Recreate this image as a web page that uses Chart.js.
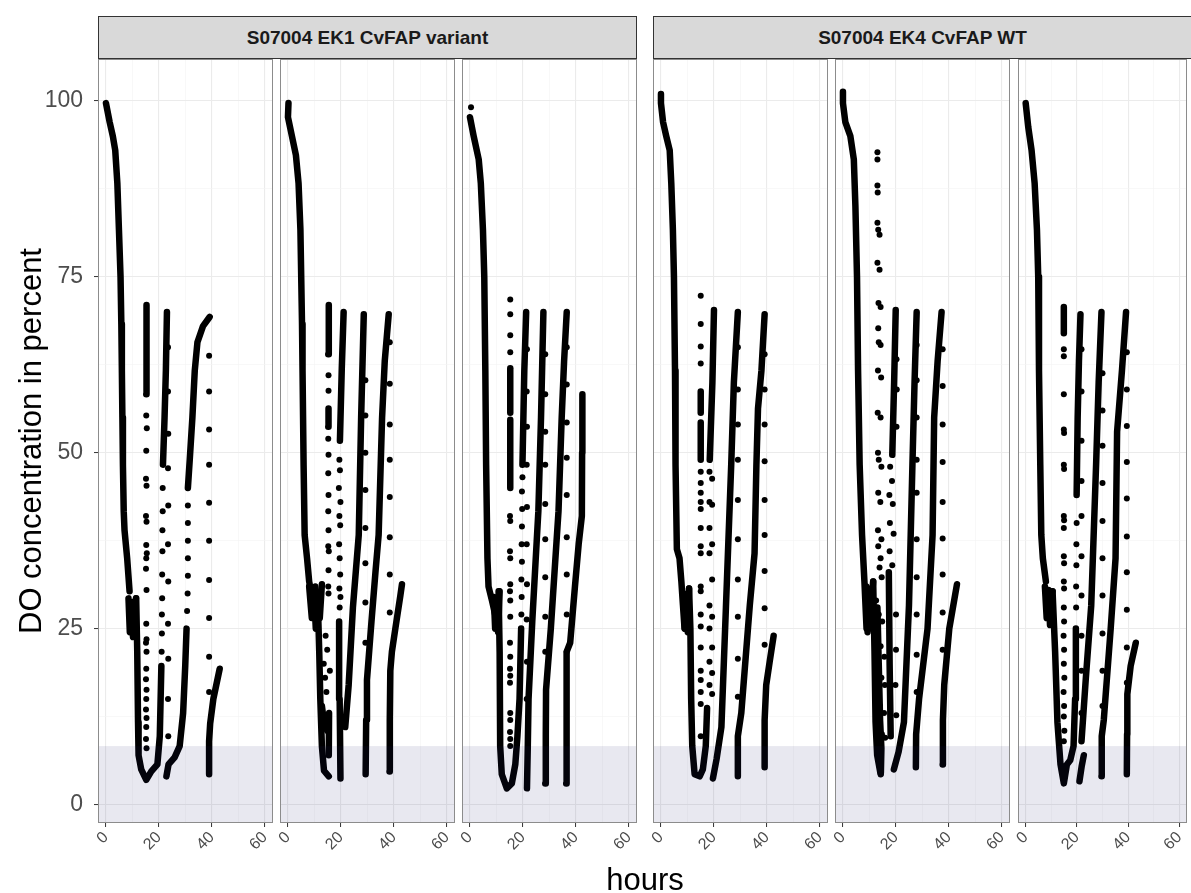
<!DOCTYPE html>
<html>
<head>
<meta charset="utf-8">
<script src="https://cdn.jsdelivr.net/npm/chart.js@4.4.1/dist/chart.umd.min.js"></script>
<style>
  body { margin: 0; background: #fff; }
  #wrap { position: relative; width: 1191px; height: 893px; overflow: hidden; font-family: "Liberation Sans", Arial, sans-serif; }
  #wrap canvas { position: absolute; left: 0; top: 0; }
  .strip { position: absolute; top: 16px; height: 43px; box-sizing: border-box; background: #d9d9d9; border: 1px solid #333;
           font-weight: bold; font-size: 19px; color: #1a1a1a; display: flex; align-items: center; justify-content: center; }
  .ytitle { position: absolute; left: 31px; top: 441px; transform: translate(-50%, -50%) rotate(-90deg); font-size: 31px; white-space: nowrap; }
  .xtitle { position: absolute; left: 645px; top: 862px; transform: translateX(-50%); font-size: 31px; }
</style>
</head>
<body>
<div id="wrap">
  <div class="strip" id="strip0" style="left:98px;width:539px"></div>
  <div class="strip" id="strip1" style="left:653px;width:539px"></div>
  <div class="ytitle">DO concentration in percent</div>
  <div class="xtitle">hours</div>
</div>
<script>
const groupNames = ['S07004 EK1 CvFAP variant', 'S07004 EK4 CvFAP WT'];
const hourTicks = [0, 20, 40, 60];
const percentTicks = [0, 25, 50, 75, 100];
const lowDoLimit = 8.3;

// EK1 variant, reactor 1: dense trails [hours, DO%] and single readings
const ek1aTrails = [
  [[0,99.7],[1.4,97],[2.6,95],[3.5,93],[4.3,88.3],[4.9,81.7],[5.5,75],[5.8,68.3],[6,61.7],[6.2,55],[6.4,48.3],[6.7,41.7],[7,39],[8,35],[8.9,30.3]],
  [[8.5,29.3],[9,24.5],[9.6,28.8],[10.2,23.8],[10.8,28.5],[11.3,29.3]],
  [[11.4,29.3],[11.8,21.7],[12.1,11.7],[12.3,7],[13.3,5],[15.2,3.5],[17.1,4.7],[19.4,5.7],[20.3,9.7],[20.9,19.7]],
  [[21.5,48.3],[22.1,55],[22.6,61.7],[23,70]],
  [[15.2,58.3],[15.3,71]],
  [[22.8,4],[23.6,5.7],[25.9,6.7],[27.8,8.3],[29.1,13],[29.9,19.7],[30.4,25]],
  [[30.9,45],[31.6,49],[32.6,55],[33.5,61.7],[34.5,65.7],[36.6,68],[39.1,69.3]],
  [[38.9,4.3],[38.9,9],[39.3,11.5],[40.5,15],[42.9,19.3]]
];
const ek1aDots = [
  [15.2,55.3],[15.4,53.5],[15.2,50.3],[15.1,46.3],[15.3,45.3],[15.1,41],[15.3,40.2],[15.2,36.9],[15.4,35.7],[15.2,35],
  [15.1,33.5],[15.3,30.5],[15.2,25.7],[15.3,23.5],[15.1,23],[15.3,21.7],[15.2,19.3],[15.1,17.8],[15.3,16.3],[15.2,15],
  [15.1,13.5],[15.3,12.3],[15.2,11],[15.1,9.3],[15.3,8],
  [21,21.7],[21.1,24.3],[21.1,27],[21.2,29.3],[21.2,32.7],[21.3,36],[21.3,39],[21.4,41.7],[21.4,45],
  [23.4,65],[23.4,58.7],[23.5,52.7],[23.4,47.8],[23.5,42.5],[23.4,37],[23.5,31.7],[23.4,25.7],[23.5,20.7],[23.4,15],[23.5,9.7],
  [30.6,27.5],[30.8,30],[30.9,32.5],[30.9,35],[30.9,37.5],[30.9,40],[30.9,42.5],
  [38.9,63.8],[38.9,58.7],[38.9,53.3],[38.9,48.3],[38.9,42.9],[38.9,37.5],[38.9,31.9],[38.9,26.5],[38.9,21],[38.9,16]
];

// EK1 variant, reactor 2
const ek1bTrails = [
  [[0.2,99.7],[0,97.7],[1.5,95],[3,92.3],[4,88.3],[4.7,81.7],[5,75],[5.3,68.3],[5.5,61.7],[5.9,48.3],[6.3,38.3],[7.2,35],[8,31.7],[9,29.7]],
  [[8,31],[9,26.5],[9.8,30.5],[10.5,25],[11.3,30],[12,26.5],[12.8,31.3]],
  [[10.3,31],[11.3,28.3],[11.8,21.7],[12.2,15],[12.8,8.3],[13.6,4.8],[15.4,4]],
  [[12.8,14],[13.5,12],[14.8,10.5],[15.5,13],[15.4,7]],
  [[15.2,64],[15.4,71]],
  [[15.2,53.7],[15.3,56.3]],
  [[19.8,3.7],[19.5,15],[19.3,26]],
  [[19.6,51.7],[20.3,62],[21,70]],
  [[21.6,11],[22.9,17],[24.5,28],[26.7,38.3],[27.6,55],[28.6,69.7]],
  [[29.3,4.3],[29.5,12],[29.8,17.7],[31.5,26],[33,33],[34.2,38.3],[35.5,55],[36.5,63],[38,69.7]],
  [[38.3,4.7],[38.4,12],[38.6,19],[39.2,21.7],[40.5,25],[42.4,29.7],[43,31.3]]
];
const ek1bDots = [
  [15.3,61],[15.3,58.8],[15.2,52],[15.3,49.7],[15.2,47.1],[15.3,44],[15.2,41.7],[15.3,39],[15.2,36.7],[15.4,36],
  [15.3,33.3],[15.2,31],[15.3,30],[14.2,24],[14.8,22],[13.5,20],[14,18],[15.8,19],[14.5,16],
  [19.4,49],[19.6,47.5],[19.2,45],[19.8,43],[19.4,41],[19.7,39.7],[19.3,37],[19.5,35],[19.7,32.7],[19.4,30.7],[19.8,29.5],[19.5,28],
  [29.2,60.3],[29.2,55.3],[29.2,50],[29.2,44.7],[29.2,39.3],[29.2,34.3],[29.2,28.7],[29.2,23],
  [38.4,65.7],[38.4,59.8],[38.4,54],[38.4,49],[38.4,43.7],[38.4,38],[38.4,32.7],[38.4,27.3]
];

// EK1 variant, reactor 3
const ek1cTrails = [
  [[0,97.7],[1.4,95],[3.3,91.7],[4.1,88.3],[4.9,81.7],[5.4,75],[5.8,61.7],[6.1,48.3],[6.6,35],[7,31],[8.3,29],[9.5,27],[10.2,26.3]],
  [[9,29.5],[9.5,25],[10.1,29],[10.6,24.5],[11.2,30.3]],
  [[10.8,30.3],[11.2,21.7],[11.4,8.3],[12,4.3],[13.9,2.3],[15.8,3],[17.1,5.7],[17.9,9.7],[18.7,15],[19.3,25]],
  [[19.8,48.3],[20.5,61.7],[21.2,70]],
  [[15.2,55.7],[15.2,62]],
  [[15.2,45],[15.2,54.7]],
  [[21.5,2.3],[21.8,8],[22.1,15],[23.5,26],[25.8,41.7],[26.8,55],[27.7,70]],
  [[28.4,3],[28.6,10],[28.7,16.3],[30.5,25],[33.4,41.7],[34.6,55],[35.5,63],[36.5,70]],
  [[36.3,3],[36.4,12],[36.5,21.7],[37.8,23],[39.6,31],[41,37],[42.2,41],[42.3,50],[42.4,58.3]]
];
const ek1cDots = [
  [0.4,99.1],
  [15.2,71.8],[15.2,69.7],[15.2,66.7],[15.2,64.3],[15.1,41],[15.2,40.3],[15.1,36],[15.2,35],[15.2,31.3],[15.1,30.3],
  [15.2,29],[15.2,26.7],[15.1,23],[15.2,21],[15.1,19.3],[15.2,18.3],[15.1,17.3],[15.2,13],[15.2,12],[15.1,10.3],[15.2,9.3],[15.2,8.3],
  [19.4,27],[19.5,29.5],[19.4,32],[19.6,34.5],[19.5,37],[19.6,39.5],[19.7,42],[19.6,44.5],[19.8,46.5],
  [21.5,64.7],[21.4,58.7],[21.5,53.7],[21.4,48.3],[21.5,42.3],[21.4,37],[21.5,31.3],[21.4,26.3],[21.5,20.3],[21.4,15],
  [28.4,64],[28.4,58.3],[28.4,53],[28.4,48.3],[28.4,42.7],[28.4,37.7],[28.4,32.3],[28.4,26.7],[28.4,21.7],
  [36.5,65],[36.5,59.7],[36.5,54.3],[36.5,49.3],[36.5,44],[36.5,38],[36.5,32.7],[36.5,27],[36.5,21.7]
];

// EK4 WT, reactor 1
const ek4aTrails = [
  [[0,101],[0,99.7],[0.8,97],[2,95],[3.3,93],[3.9,88.3],[4.5,81.7],[4.9,75],[5.3,61.7],[5.5,48.3],[6,36.3],[7,35],[7.7,31.7],[8.3,28.3],[8.9,25]],
  [[8.5,30],[9,25],[9.6,29.5],[10.1,24.5],[10.6,30.7]],
  [[10.6,30.7],[11.1,25],[11.4,15],[11.8,8.3],[12.7,4.3],[14.6,4],[15.8,5],[16.9,8.3],[17.4,13.7]],
  [[18.4,49],[19.4,60],[20,70.3]],
  [[15,55.7],[15,58.7]],
  [[15,49],[15,54.3]],
  [[19.6,3.7],[21,6.5],[22.8,11],[24.5,28],[26.5,48.3],[27.5,60],[29,70]],
  [[29,4],[29,9.7],[30.3,13],[33.5,28.3],[35.3,35.7],[36,48.3],[36.6,56.3],[37.9,61.7],[39.1,69.7]],
  [[39.1,5.3],[39.1,12],[39.7,17],[41,20.3],[42.5,24]]
];
const ek4aDots = [
  [15,72.3],[15,68.3],[15,65.1],[15,62.7],[15,47.3],[15,45.7],[15,44.3],[15,43],[15,42],[15,39.3],[15,36.7],[15,35.7],
  [15,31],[15,30.3],[15,27],[15,25.3],[15,22.3],[15,19],[15,17.7],[15,16],[15,14.3],[15,9.7],
  [18.3,47.3],[19.3,46.3],[18.3,43],[19.3,42.6],[18.3,39.3],[19.3,37],[18.3,35.7],[19.3,32],[18.3,28.3],[19.3,26.7],
  [18.3,25],[19.3,22.3],[18.3,20.3],[19.3,18.7],[18.3,17],[19.3,15.7],
  [29,65],[29,59],[29,54],[29,49],[29,43.3],[29,37.7],[29,32],[29,26.7],[29,20.7],[29,15.3],
  [39.1,64],[39.1,59],[39.1,54],[39.1,48.8],[39.1,43.3],[39.1,38.3],[39.1,33.2],[39.1,27.9],[39.1,22.7]
];

// EK4 WT, reactor 2
const ek4bTrails = [
  [[0,101.3],[0,99.7],[0.9,97],[2.8,95],[4.1,91.7],[4.7,85],[5.3,75],[5.7,61.7],[6.3,48.3],[7.2,38.3],[8.1,31.7],[8.9,25]],
  [[8.8,31],[9.3,24.5],[9.9,30],[10.5,25],[11,30],[11.4,31.7]],
  [[11.4,31.7],[11.9,21.7],[12.3,11.7],[12.9,7],[14.2,4.3]],
  [[13,28],[13.5,20],[14,12],[14.5,8],[14.3,4.5]],
  [[18.6,49.7],[19.3,60],[19.9,70.3]],
  [[17.3,33],[17.6,20],[18,9.7]],
  [[19.2,5],[21,7.5],[23,11.7],[24.9,28.3],[26.2,48.3],[27,60],[27.8,70]],
  [[27.5,5.3],[27.6,10],[28.7,15],[31.9,25],[33.8,38.3],[34.4,55],[35.7,63],[37.2,70]],
  [[37.6,5.7],[37.7,12],[38.2,17],[40.1,25],[43,31.3]]
];
const ek4bDots = [
  [13,92.7],[13,91.7],[13,88],[13.1,87],[13,82.7],[13.3,81.7],[13.8,81],[13,77],[13.8,76],[13.4,71.3],[14.2,70.7],
  [13.3,67.7],[13.5,65.7],[14.2,65.3],[13.2,61.7],[14.4,60.7],[13.1,55.7],[14.2,55],[13.2,50],[13.5,49],[14.5,48],
  [13.3,44.3],[14.1,43],[13.2,39],[14.5,37.7],[13.3,36.7],[14.2,35],[13.8,33.7],[14.6,32.3],
  [12.5,29],[13.5,27],[14.8,26],[12.8,24],[14.2,22.5],[15.6,21],[13,19],[14.5,18],[15.8,17],[12.7,15],[14,14],
  [15.5,13],[13.2,11],[14.7,10],[15.9,9.5],[13.4,7.5],
  [17.8,48],[18.5,46],[17.5,44],[18.8,42.7],[17.7,40],[19.1,38.5],[17.6,36],[18.6,34],
  [20.2,63.3],[20.3,59],[20.2,53.7],[20,27],[20,22],[19.8,17],[20.1,12.7],
  [27.8,65.3],[27.8,60.3],[27.8,55],[27.8,49],[27.8,44.3],[27.8,37.7],[27.8,32.3],[27.8,27],[27.8,21.3],[27.8,16],
  [37.6,64.7],[37.6,59.5],[37.6,54],[37.6,48.7],[37.6,43],[37.6,37.8],[37.6,32.7],[37.6,27.3],[37.6,22]
];

// EK4 WT, reactor 3
const ek4cTrails = [
  [[0,99.7],[1,96.3],[2.3,93],[3.5,88.3],[4.4,81.7],[4.9,75],[5.2,61.7],[5.7,48.3],[6.1,38.3],[6.7,35],[7.9,31.7]],
  [[7.5,31],[8.2,26.5],[8.9,30.5],[9.5,25.5],[10,29.5],[10.5,30.3]],
  [[10.5,30.3],[11.5,21.7],[12.4,11.7],[13.6,5.7],[14.9,3],[16.1,5.7],[17.4,6.3],[18.7,8.3],[19.3,15],[19.6,25]],
  [[19.9,44],[20.3,55],[20.8,63],[21.4,69.7]],
  [[14.9,67],[14.9,70.7]],
  [[21,3.3],[21.9,5.5],[22.7,7]],
  [[21.8,9],[23.5,18],[25.6,28.3],[27.5,48.3],[28.5,60],[29.6,70]],
  [[29.6,4],[29.7,9.7],[30.5,12],[33.2,25],[35.1,35],[35.7,53],[37.6,61.7],[39.2,70]],
  [[39.5,4.3],[39.6,10],[39.7,15.7],[41,19.7],[43,23]]
];
const ek4cDots = [
  [14.9,64.7],[14.9,63.7],[14.9,58.3],[14.9,53.3],[15,52.8],[14.9,48.3],[15,47.7],[14.9,41],[15,40.4],[14.9,39.3],
  [14.9,35.3],[15,34.3],[14.9,31.7],[15,30.7],[14.9,28],[15,26],[14.8,24],[15,22],[14.9,20],[15.1,18],[14.8,16],
  [15,14],[14.9,12.5],[15.1,10.5],[14.9,9],
  [19.7,28],[19.7,31],[19.8,34],[19.8,37],[19.9,40],
  [21.8,64.7],[21.8,58.7],[21.8,51.7],[21.8,46],[21.8,41],[21.8,35.3],[21.8,29.7],[21.8,24],[21.8,19],[21.8,13],
  [30,61.3],[30,56],[30,51],[30,45.7],[30,40.3],[30,35],[30,29.7],[30,24.3],[30,19],[30,14],
  [39.5,64.3],[39.5,59],[39.5,53.8],[39.5,48.7],[39.5,43.5],[39.5,38.1],[39.5,33],[39.5,27.7],[39.5,22.3],[39.5,17.3]
];

const FONT = '"Liberation Sans", Arial, sans-serif';
const W = 1191, H = 893;
const PLOT_TOP = 59, PLOT_BOTTOM = 823, X_AXIS_H = 70, Y_AXIS_W = 60;

// panel pixel extents; the first panel carries the y axis labels
const panels = [
  { left: 98, right: 273, trails: ek1aTrails, dots: ek1aDots },
  { left: 280, right: 455, trails: ek1bTrails, dots: ek1bDots },
  { left: 462, right: 637, trails: ek1cTrails, dots: ek1cDots },
  { left: 653, right: 828, trails: ek4aTrails, dots: ek4aDots },
  { left: 835, right: 1010, trails: ek4bTrails, dots: ek4bDots },
  { left: 1018, right: 1193, trails: ek4cTrails, dots: ek4cDots }
];

groupNames.forEach((name, i) => { document.getElementById('strip' + i).textContent = name; });

// major grid plus a minor line halfway between the labelled ticks
const hourGrid = hourTicks.flatMap((v, i) => i ? [(v + hourTicks[i - 1]) / 2, v] : [v]);
const percentGrid = percentTicks.flatMap((v, i) => i ? [(v + percentTicks[i - 1]) / 2, v] : [v]);

const panelDecor = {
  id: 'panelDecor',
  afterDatasetsDraw(chart) {
    const { ctx, chartArea: a, scales } = chart;
    const y0 = scales.y.getPixelForValue(lowDoLimit);
    ctx.save();
    ctx.fillStyle = 'rgba(25, 25, 112, 0.1)';
    ctx.fillRect(a.left, y0, a.right - a.left, a.bottom - y0);
    ctx.restore();
  },
  afterDraw(chart) {
    const { ctx, chartArea: a } = chart;
    ctx.save();
    ctx.strokeStyle = '#8c8c8c';
    ctx.lineWidth = 1;
    ctx.strokeRect(Math.round(a.left) + 0.5, Math.round(a.top) + 0.5, Math.round(a.right - a.left) - 1, Math.round(a.bottom - a.top) - 1);
    ctx.restore();
  }
};

function toXY(pts) {
  return pts.map(p => ({ x: p[0], y: p[1] }));
}

function makePanel(p, i) {
  const canvas = document.createElement('canvas');
  canvas.width = W;
  canvas.height = H;
  document.getElementById('wrap').insertBefore(canvas, document.getElementById('strip0'));
  const yw = i === 0 ? Y_AXIS_W : 0;

  const datasets = p.trails.map(seg => ({
    data: toXY(seg),
    showLine: true,
    borderColor: '#000',
    borderWidth: 6.5,
    borderCapStyle: 'round',
    borderJoinStyle: 'round',
    pointRadius: 0
  }));
  datasets.push({
    data: toXY(p.dots),
    showLine: false,
    pointRadius: 3,
    pointBorderWidth: 0,
    backgroundColor: '#000'
  });

  new Chart(canvas, {
    type: 'scatter',
    data: { datasets },
    options: {
      responsive: false,
      animation: false,
      devicePixelRatio: 1,
      layout: { padding: { left: p.left - yw, right: W - p.right, top: PLOT_TOP, bottom: H - PLOT_BOTTOM - X_AXIS_H } },
      plugins: { legend: { display: false }, tooltip: { enabled: false } },
      scales: {
        x: {
          type: 'linear',
          min: -3,
          max: 63,
          afterBuildTicks: s => { s.ticks = hourGrid.map(v => ({ value: v })); },
          afterFit: s => { s.height = X_AXIS_H; s.paddingLeft = 0; s.paddingRight = 0; },
          border: { display: false },
          grid: {
            color: c => hourTicks.includes(c.tick.value) ? '#ebebeb' : '#f4f4f4',
            lineWidth: c => hourTicks.includes(c.tick.value) ? 1.1 : 0.6,
            tickLength: 4,
            tickWidth: 1,
            tickColor: c => hourTicks.includes(c.tick.value) ? '#333' : 'rgba(0,0,0,0)'
          },
          ticks: {
            autoSkip: false,
            minRotation: 45,
            maxRotation: 45,
            padding: 1,
            color: '#4d4d4d',
            font: { family: FONT, size: 16 },
            callback: v => hourTicks.includes(v) ? String(v) : ''
          }
        },
        y: {
          type: 'linear',
          min: -2.63,
          max: 105.97,
          afterBuildTicks: s => { s.ticks = percentGrid.map(v => ({ value: v })); },
          afterFit: s => { s.width = yw; s.paddingTop = 0; s.paddingBottom = 0; },
          border: { display: false },
          grid: {
            color: c => percentTicks.includes(c.tick.value) ? '#ebebeb' : '#f4f4f4',
            lineWidth: c => percentTicks.includes(c.tick.value) ? 1.1 : 0.6,
            drawTicks: i === 0,
            tickLength: 4,
            tickWidth: 1,
            tickColor: c => percentTicks.includes(c.tick.value) ? '#333' : 'rgba(0,0,0,0)'
          },
          ticks: {
            display: i === 0,
            padding: 11,
            color: '#4d4d4d',
            font: { family: FONT, size: 23 },
            callback: v => percentTicks.includes(v) ? String(v) : ''
          }
        }
      }
    },
    plugins: [panelDecor]
  });
}

panels.forEach(makePanel);
</script>
</body>
</html>
